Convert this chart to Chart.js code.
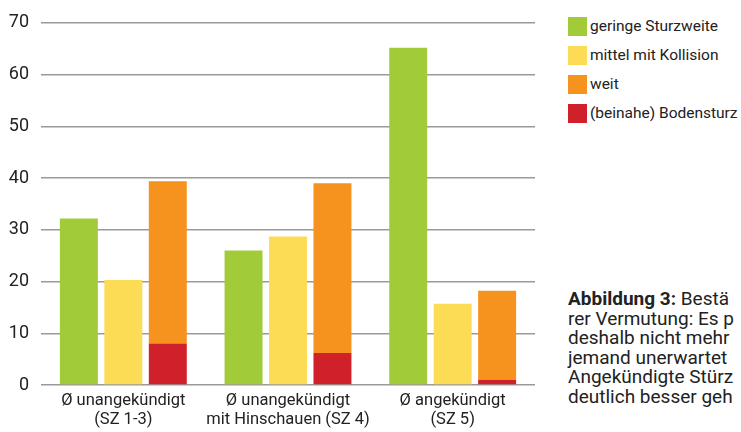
<!DOCTYPE html>
<html lang="de">
<head>
<meta charset="UTF-8">
<title>Abbildung 3</title>
<script src="https://cdn.jsdelivr.net/npm/chart.js"></script>
<style>
    html, body { margin: 0; padding: 0; background: #fff; overflow: hidden; }
    body { width: 741px; height: 432px; position: relative; font-family: Roboto, sans-serif; color: #222; }
    .chart-box { position: absolute; left: 0; top: 0; width: 545px; height: 432px; }
    .legende { position: absolute; left: 568px; top: 17px; list-style: none; margin: 0; padding: 0; }
    .legende li { height: 19px; margin-bottom: 10px; font-size: 15.5px; line-height: 19px; white-space: nowrap; }
    .legende span { display: inline-block; width: 19px; height: 19px; vertical-align: top; margin-right: 3px; }
    .caption { position: absolute; left: 568px; top: 289px; font-size: 19px; line-height: 19.5px; white-space: nowrap; }
</style>
</head>
<body>
    <div class="chart-box"><canvas id="grafico"></canvas></div>

    <ul class="legende" id="legende"></ul>

    <div class="caption">
        <b>Abbildung 3:</b> Bestä<br>
        rer Vermutung: Es p<br>
        deshalb nicht mehr<br>
        jemand unerwartet<br>
        Angekündigte Stürz<br>
        deutlich besser geh
    </div>

<script>
    // Kategorien (zweizeilig)
    var kategorien = [
        ['\u00D8 unangekündigt', '(SZ 1-3)'],
        ['\u00D8 unangekündigt', 'mit Hinschauen (SZ 4)'],
        ['\u00D8 angekündigt', '(SZ 5)']
    ];

    var geringeSturzweite = [32.2, 26.0, 65.2];
    var mittelMitKollision = [20.3, 28.7, 15.7];
    var weitGesamt = [39.4, 39.0, 18.2];   // Balkenhöhe inkl. Bodensturz
    var bodensturz = [8.0, 6.2, 1.0];

    var yTicks = [0, 10, 20, 30, 40, 50, 60, 70];

    var farben = {
        gruen: '#a2cb3a',
        gelb: '#fddc55',
        orange: '#f6921e',
        rot: '#d0202a'
    };

    // orangener Teil oberhalb vom roten Teil
    var weitRest = weitGesamt.map((v, i) => +(v - bodensturz[i]).toFixed(1));

    var legendeEintraege = [
        ['geringe Sturzweite', farben.gruen],
        ['mittel mit Kollision', farben.gelb],
        ['weit', farben.orange],
        ['(beinahe) Bodensturz', farben.rot]
    ];

    var ul = document.getElementById('legende');
    legendeEintraege.forEach(e => {
        var li = document.createElement('li');
        li.innerHTML = `<span style="background:${e[1]}"></span>${e[0]}`;
        ul.appendChild(li);
    });

    var ctx = document.getElementById('grafico');

    new Chart(ctx, {
        type: 'bar',
        data: {
            labels: kategorien,
            datasets: [
                { label: 'geringe Sturzweite', data: geringeSturzweite, backgroundColor: farben.gruen, stack: 'a' },
                { label: 'mittel mit Kollision', data: mittelMitKollision, backgroundColor: farben.gelb, stack: 'b' },
                { label: '(beinahe) Bodensturz', data: bodensturz, backgroundColor: farben.rot, stack: 'c' },
                { label: 'weit', data: weitRest, backgroundColor: farben.orange, stack: 'c' }
            ]
        },
        options: {
            responsive: true,
            maintainAspectRatio: false,
            animation: false,
            barPercentage: 0.854,
            categoryPercentage: 0.81,
            layout: { padding: { top: 19, right: 10, left: 0, bottom: 0 } },
            plugins: {
                legend: { display: false },
                tooltip: { enabled: false }
            },
            scales: {
                x: {
                    stacked: true,
                    grid: { display: false, drawTicks: false },
                    border: { display: false },
                    ticks: {
                        color: '#222',
                        padding: 6,
                        maxRotation: 0,
                        autoSkip: false,
                        font: { family: 'Roboto', size: 16.5, lineHeight: 1.15 }
                    },
                    afterFit: function (axis) { axis.height = 47; }
                },
                y: {
                    stacked: true,
                    min: 0,
                    max: 70,
                    afterBuildTicks: function (axis) {
                        axis.ticks = yTicks.map(v => ({ value: v }));
                    },
                    grid: { color: '#9a9a9a', lineWidth: 1.5, drawTicks: false },
                    border: { display: false },
                    ticks: {
                        color: '#222',
                        padding: 12,
                        font: { family: 'Roboto', size: 18 }
                    },
                    afterFit: function (axis) { axis.width = 41; }
                }
            }
        }
    });
</script>
</body>
</html>
